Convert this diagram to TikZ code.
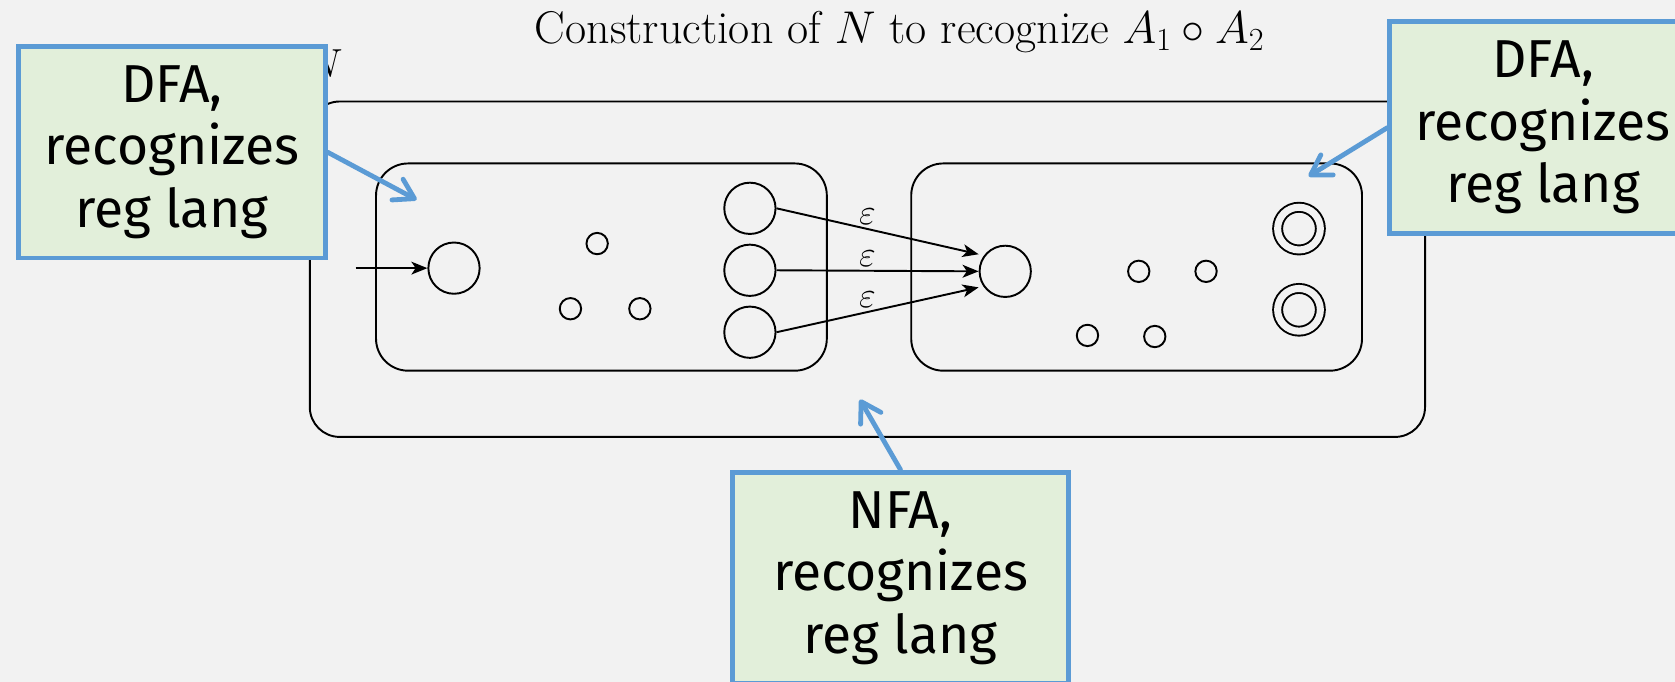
\RequirePackage{fix-cm}
\documentclass[tikz,border=0pt]{standalone}
\usepackage{fontspec}
\usepackage{amsmath}
\usepackage{amssymb}
\usetikzlibrary{arrows.meta}
\newfontfamily\notefont{Fira Sans}
\definecolor{pagebg}{HTML}{F2F2F2}
\definecolor{notefill}{HTML}{E2EFDA}
\definecolor{noteline}{HTML}{5B9BD5}

\begin{document}
\begin{tikzpicture}[x=1pt, y=-1pt,
    state/.style={circle, draw, line width=1.8pt, minimum size=48pt, inner sep=0pt},
    dot/.style={circle, draw, line width=1.8pt, minimum size=20pt, inner sep=0pt},
    accept/.style={circle, draw, line width=1.8pt, minimum size=40pt, inner sep=0pt, double=pagebg, double distance=6.6pt},
    machine/.style={draw, line width=1.8pt, rounded corners=30pt, inner sep=0pt},
    trans/.style={-{Stealth[length=15pt, width=12pt, inset=4pt]}, line width=1.8pt},
    eps/.style={pos=0.45, above=0pt, font=\fontsize{34}{40}\selectfont},
    note/.style={draw=noteline, fill=notefill, line width=4.5pt, align=center, minimum width=287pt, minimum height=198pt, inner sep=0pt, font=\notefont\fontsize{50}{58.5}\selectfont},
    pointer/.style={draw=noteline, line width=4.5pt, line cap=round, -{Straight Barb[length=18pt, width=22pt, round]}}]

	% page and clipping
	\useasboundingbox (0,0) rectangle (1568,638);
	\fill[pagebg] (0,0) rectangle (1568,638);
	\clip (0,0) rectangle (1568,638);

	% heading and name of the machine
	\node[anchor=base, font=\fontsize{43}{50}\selectfont] (title) at (842,41) {Construction of $N$ to recognize $A_1\circ A_2$};
	\node[anchor=base east, inner sep=0pt, font=\fontsize{38}{44}\selectfont] (nname) at (321,73) {$N$};

	% the combined machine and its two parts
	\node[machine, rounded corners=28pt, minimum width=1044pt, minimum height=314pt] (whole) at (812,252) {};
	\node[machine, minimum width=422pt, minimum height=194pt] (first) at (563,250) {};
	\node[machine, minimum width=422pt, minimum height=194pt] (second) at (1064,250) {};

	% states of the first part
	\coordinate (entry) at (333,251);
	\node[state] (a0) at (425,251) {};
	\node[dot] (a1) at (559,228) {};
	\node[dot] (a2) at (534,289) {};
	\node[dot] (a3) at (599,289) {};
	\node[state] (f1) at (702,195) {};
	\node[state] (f2) at (702,253) {};
	\node[state] (f3) at (702,311) {};

	% states of the second part
	\node[state] (b0) at (941,254) {};
	\node[dot] (b1) at (1066,254) {};
	\node[dot] (b2) at (1129,254) {};
	\node[dot] (b3) at (1018,314) {};
	\node[dot] (b4) at (1081,315) {};
	\node[accept] (g1) at (1216,214) {};
	\node[accept] (g2) at (1216,290) {};

	% start arrow and empty moves
	\draw[trans] (entry) -- (a0);
	\draw[trans] (f1.east) -- ([yshift=16pt]b0.west) node[eps] {$\varepsilon$};
	\draw[trans] (f2.east) -- (b0.west) node[eps] {$\varepsilon$};
	\draw[trans] (f3.east) -- ([yshift=-15pt]b0.west) node[eps] {$\varepsilon$};

	% callouts
	\node[note] (dfaleft) at (161,142.5) {DFA,\\recognizes\\reg lang};
	\node[note] (dfaright) at (1444.5,119.5) {DFA,\\recognizes\\reg lang};
	\node[note, minimum width=315pt] (nfa) at (843,541) {NFA,\\recognizes\\reg lang};

	\coordinate (tipleft) at (390,187);
	\coordinate (tipright) at (1225,165);
	\coordinate (tipnfa) at (805,374);
	\draw[pointer] (dfaleft.east) -- (tipleft);
	\draw[pointer] (dfaright.west) -- (tipright);
	\draw[pointer] (nfa.north) -- (tipnfa);

\end{tikzpicture}
\end{document}
